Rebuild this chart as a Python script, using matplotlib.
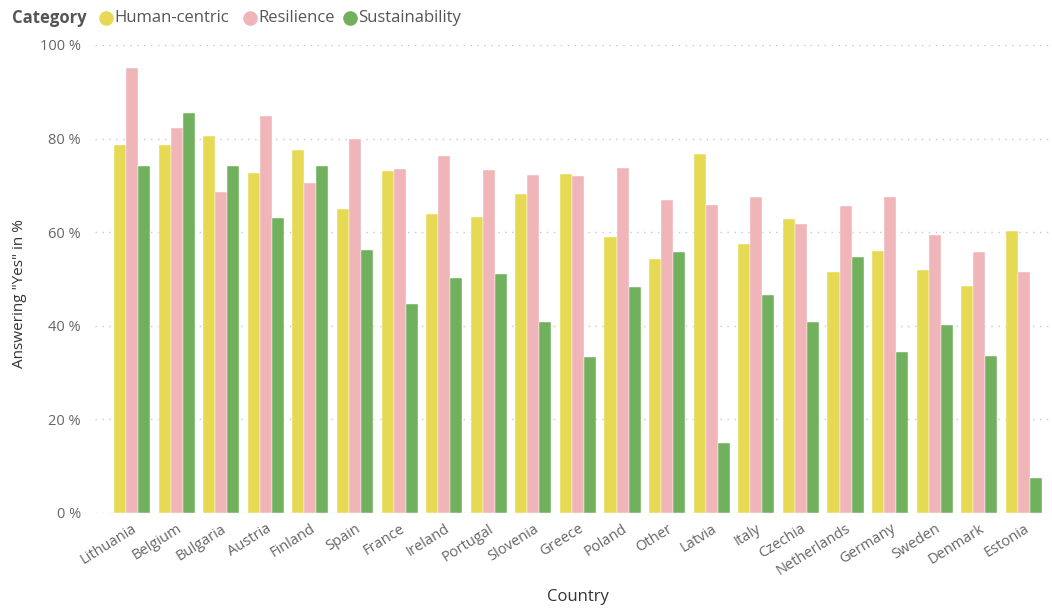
import matplotlib.pyplot as plt
import matplotlib.lines as mlines
import numpy as np

countries = ["Lithuania", "Belgium", "Bulgaria", "Austria", "Finland", "Spain", "France",
             "Ireland", "Portugal", "Slovenia", "Greece", "Poland", "Other", "Latvia",
             "Italy", "Czechia", "Netherlands", "Germany", "Sweden", "Denmark", "Estonia"]
human_centric = [78.6, 78.6, 80.6, 72.7, 77.6, 65.0, 73.0, 63.8, 63.2, 68.1, 72.5,
                 59.0, 54.2, 76.7, 57.5, 62.9, 51.6, 55.9, 51.9, 48.5, 60.3]
resilience = [95.1, 82.3, 68.6, 84.8, 70.6, 79.9, 73.5, 76.3, 73.2, 72.2, 72.0,
              73.8, 66.9, 65.9, 67.5, 61.7, 65.5, 67.5, 59.5, 55.7, 51.4]
sustainability = [74.2, 85.4, 74.2, 63.1, 74.2, 56.1, 44.6, 50.3, 51.1, 40.8, 33.4,
                  48.2, 55.7, 14.9, 46.5, 40.8, 54.8, 34.4, 40.2, 33.5, 7.4]

series = [("Human-centric", human_centric, "#E6DA55"),
          ("Resilience", resilience, "#EFB5B9"),
          ("Sustainability", sustainability, "#71B15E")]

plt.rcParams['font.family'] = ['Open Sans', 'DejaVu Sans']

fig = plt.figure(figsize=(10.52, 6.10), dpi=100)
ax = fig.add_axes([95 / 1052, 1 - 513 / 610, 957 / 1052, 468 / 610])

x = np.arange(len(countries))
w = 0.27
for i, (name, vals, col) in enumerate(series):
    ax.bar(x + (i - 1) * w, vals, width=w, color=col, edgecolor="white", linewidth=0.3)

ax.set_xlim(-0.83, len(countries) - 0.37)
ax.set_ylim(0, 100)
ax.set_yticks([0, 20, 40, 60, 80, 100])
ax.set_yticklabels([f"{v} %" for v in [0, 20, 40, 60, 80, 100]])
ax.set_xticks(x)
ax.set_xticklabels(countries, rotation=32, ha="right", rotation_mode="anchor")
ax.tick_params(axis="both", length=0, labelsize=10.5, labelcolor="#666666")
ax.tick_params(axis="y", pad=10)
ax.tick_params(axis="x", pad=6)

ax.grid(axis="y", linestyle=(0, (1, 4)), color="#c8c8c8", linewidth=1)
ax.set_axisbelow(True)
for s in ax.spines.values():
    s.set_visible(False)

fig.text(20 / 1052, 1 - 294 / 610, 'Answering "Yes" in %', rotation=90, fontsize=11,
         color="#333333", ha="center", va="center")
fig.text(578 / 1052, 1 - 597 / 610, "Country", fontsize=12, color="#333333",
         ha="center", va="center")

# legend row along the top
fig.text(12 / 1052, 0.970, "Category", fontsize=12, fontweight="bold", color="#555555", va="center")
legend_x = [(106, "Human-centric"), (250, "Resilience"), (350, "Sustainability")]
for (lx, name), (_, _, col) in zip(legend_x, series):
    fig.add_artist(mlines.Line2D([lx / 1052], [0.970], marker="o", markersize=9.5, color=col,
                                 linestyle="none", transform=fig.transFigure))
    fig.text((lx + 8) / 1052, 0.970, name, fontsize=12, color="#555555", va="center")

fig.savefig("out.png", dpi=100)
